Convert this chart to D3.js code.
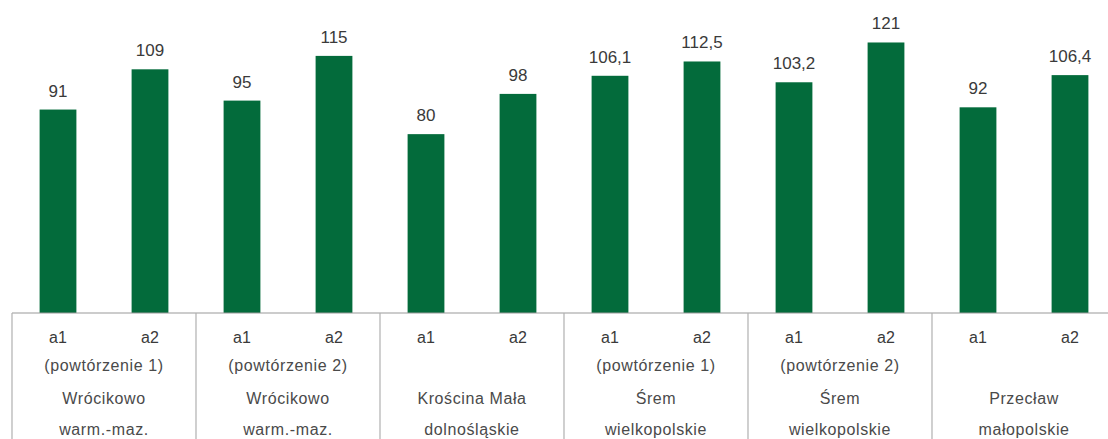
<!DOCTYPE html>
<html>
<head>
<meta charset="utf-8">
<script src="https://cdn.jsdelivr.net/npm/d3@7"></script>
<style>
	html, body { margin: 0; padding: 0; background: #fff; overflow: hidden; }
	svg { display: block; font-family: "Liberation Sans", Arial, sans-serif; }
</style>
</head>
<body>
<script>
// data
const series = ["a1", "a2"];
const repeats = ["(powtórzenie 1)", "(powtórzenie 2)", "", "(powtórzenie 1)", "(powtórzenie 2)", ""];
const places = ["Wrócikowo", "Wrócikowo", "Krościna Mała", "Śrem", "Śrem", "Przecław"];
const regions = ["warm.-maz.", "warm.-maz.", "dolnośląskie", "wielkopolskie", "wielkopolskie", "małopolskie"];
const a1Values = [91, 95, 80, 106.1, 103.2, 92];
const a2Values = [109, 115, 98, 112.5, 121, 106.4];

var width = 1108,
	height = 439;

var svg = d3.select("body").append("svg").attr("width", width).attr("height", height);

var groups = places.map((p, i) => i);
var rows = groups.map((i) => ({ i: i, values: [a1Values[i], a2Values[i]] }));

var baseY = 313;

var x0 = d3.scaleBand().domain(groups).range([12, 12 + 6 * 184]).padding(0);
var x1 = d3.scaleBand().domain(series).range([0, x0.bandwidth()]).paddingInner(0.6).paddingOuter(0.3);
var y = d3.scaleLinear().domain([0, 140]).range([baseY, 0]);

var pl = d3.formatLocale({ decimal: ",", thousands: " ", grouping: [3], currency: ["", " zł"] });
var fmt = pl.format(".1~f");

var g = svg.append("g").selectAll("g").data(rows).enter().append("g")
	.attr("transform", (d) => "translate(" + x0(d.i) + ",0)");

// bars
g.selectAll("rect")
	.data((d) => d.values.map((v, k) => ({ s: series[k], v: v })))
	.enter()
	.append("rect")
	.attr("x", (d) => x1(d.s))
	.attr("y", (d) => y(d.v))
	.attr("width", x1.bandwidth())
	.attr("height", (d) => y(0) - y(d.v))
	.style("fill", "#036b3b");

// value labels
g.selectAll(".val")
	.data((d) => d.values.map((v, k) => ({ s: series[k], v: v })))
	.enter()
	.append("text")
	.attr("class", "val")
	.attr("x", (d) => x1(d.s) + x1.bandwidth() / 2)
	.attr("y", (d) => y(d.v) - 13)
	.attr("text-anchor", "middle")
	.style("font-size", "17px")
	.style("fill", "#3a3a3a")
	.text((d) => fmt(d.v));

// table under the bars
svg.append("line")
	.attr("x1", 12).attr("x2", width)
	.attr("y1", baseY).attr("y2", baseY)
	.style("stroke", "#9a9a9a").style("stroke-width", 1.2);

svg.append("g").selectAll("line")
	.data(groups)
	.enter()
	.append("line")
	.attr("x1", (d) => x0(d)).attr("x2", (d) => x0(d))
	.attr("y1", baseY).attr("y2", height)
	.style("stroke", "#b0b0b0").style("stroke-width", 1.2);

// series labels
g.selectAll(".ser")
	.data(series)
	.enter()
	.append("text")
	.attr("class", "ser")
	.attr("x", (d) => x1(d) + x1.bandwidth() / 2)
	.attr("y", 343)
	.attr("text-anchor", "middle")
	.style("font-size", "16px")
	.style("fill", "#3a3a3a")
	.text((d) => d);

var mid = x0.bandwidth() / 2;
[[repeats, 371], [places, 404], [regions, 435]].forEach(([arr, ty]) => {
	g.append("text")
		.attr("x", mid)
		.attr("y", ty)
		.attr("text-anchor", "middle")
		.style("font-size", "16px")
		.style("letter-spacing", "0.6px")
		.style("fill", "#4a4a4a")
		.text((d) => arr[d.i]);
});
</script>
</body>
</html>
